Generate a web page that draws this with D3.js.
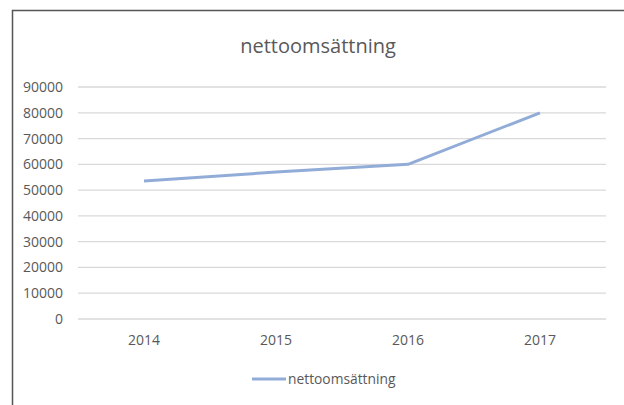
<!DOCTYPE html>
<html>
<head>
<meta charset="utf-8">
<script src="https://cdn.jsdelivr.net/npm/d3@7"></script>
<style>
  body { margin: 0; background: #fff; }
  text { font-family: "Open Sans", sans-serif; fill: #595959; }
</style>
</head>
<body>
<div id="chart-area"></div>
<script>
// data
const years = ["2014", "2015", "2016", "2017"]
const sales = [53500, 57000, 60000, 80000]
const yTicks = [0, 10000, 20000, 30000, 40000, 50000, 60000, 70000, 80000, 90000]
const seriesName = "nettoomsättning"

const W = 624
const H = 405
const MARGIN = { LEFT: 78, RIGHT: 18, TOP: 87, BOTTOM: 86 }
const WIDTH = W - MARGIN.LEFT - MARGIN.RIGHT
const HEIGHT = H - MARGIN.TOP - MARGIN.BOTTOM

const svg = d3.select("#chart-area").append("svg")
  .attr("width", W)
  .attr("height", H)

// frame (cut off at right and bottom)
svg.append("path")
  .attr("d", `M12.5,${H} L12.5,10.5 L${W},10.5`)
  .attr("fill", "none")
  .attr("stroke", "#555")
  .attr("stroke-width", 1.5)

svg.append("text")
  .attr("x", 318)
  .attr("y", 53)
  .attr("text-anchor", "middle")
  .attr("font-size", "20px")
  .text(seriesName)

const g = svg.append("g")
  .attr("transform", `translate(${MARGIN.LEFT}, ${MARGIN.TOP})`)

// scales
const x = d3.scaleBand().domain(years).range([0, WIDTH])
const y = d3.scaleLinear().domain([0, 90000]).range([HEIGHT, 0])

// gridlines
g.append("g")
  .selectAll("line")
  .data(yTicks)
  .enter().append("line")
    .attr("x1", 0)
    .attr("x2", WIDTH)
    .attr("y1", d => y(d))
    .attr("y2", d => y(d))
    .attr("stroke", "#d9d9d9")
    .attr("stroke-width", 1.3)

// y axis labels
const yAxis = g.append("g")
  .call(d3.axisLeft(y).tickValues(yTicks).tickSize(0).tickPadding(15).tickFormat(d3.format("d")))
yAxis.select(".domain").remove()
yAxis.selectAll("text")
  .attr("font-size", "14px")
  .attr("font-family", "Open Sans, sans-serif")
  .style("fill", "#595959")

// x axis labels
const xAxis = g.append("g")
  .attr("transform", `translate(0, ${HEIGHT})`)
  .call(d3.axisBottom(x).tickSize(0).tickPadding(16))
xAxis.select(".domain").remove()
xAxis.selectAll("text")
  .attr("font-size", "14px")
  .attr("font-family", "Open Sans, sans-serif")
  .style("fill", "#595959")

// line
const line = d3.line()
  .x((d, i) => x(years[i]) + x.bandwidth() / 2)
  .y(d => y(d))

g.append("path")
  .attr("d", line(sales))
  .attr("fill", "none")
  .attr("stroke", "#92acd8")
  .attr("stroke-width", 3)
  .attr("stroke-linejoin", "round")

// legend
const legend = svg.append("g").attr("transform", "translate(252, 379)")
legend.append("line")
  .attr("x1", 0).attr("x2", 34)
  .attr("stroke", "#92acd8")
  .attr("stroke-width", 3)
legend.append("text")
  .attr("x", 36)
  .attr("y", 5)
  .attr("font-size", "13.8px")
  .text(seriesName)
</script>
</body>
</html>
